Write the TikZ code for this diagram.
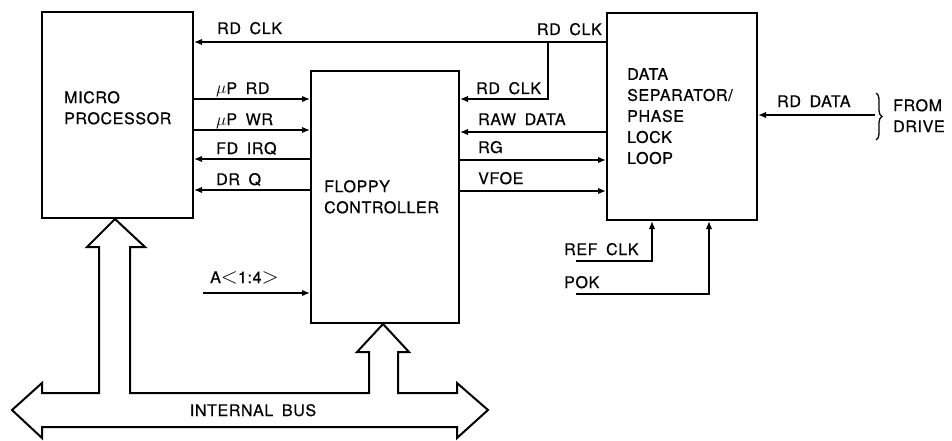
\documentclass[tikz,border=0pt]{standalone}
\usepackage{fontspec}
\setmainfont{TeX Gyre Heros}[LetterSpace=4,WordSpace=1.7,FakeBold=0.6]

\usetikzlibrary{arrows.meta,decorations.pathreplacing,positioning}

\begin{document}
\begin{tikzpicture}[x=1pt,y=-1pt,>={Latex[length=8pt,width=6.5pt]},
  font=\fontsize{16}{21}\selectfont,
  blk/.style={draw,line width=2pt,inner sep=0pt},
  sig/.style={line width=1.5pt},
  lbl/.style={anchor=base west,inner sep=0pt},
  txt/.style={anchor=north west,inner sep=0pt,align=left}]
\useasboundingbox (0,0) rectangle (952,441);
% the three blocks
\node[blk,minimum width=151pt,minimum height=206pt] (mp) at (117.5,115) {};
\node[blk,minimum width=148pt,minimum height=252pt] (fc) at (385,197) {};
\node[blk,minimum width=150pt,minimum height=207pt] (sep) at (682,116.5) {};
\node[txt] (mptxt) at (64,91) {MICRO\\PROCESSOR};
\node[txt] (fctxt) at (324,180) {FLOPPY\\CONTROLLER};
\node[txt] (septxt) at (627,68) {DATA\\SEPARATOR/\\PHASE\\LOCK\\LOOP};
% read clock to cpu and controller
\draw[sig,->] (sep.west |- 0,42) -- (mp.east |- 0,42);
\coordinate (rdk) at (548,42);
\draw[sig,->] (rdk) |- (fc.east |- 0,99);
\node[lbl] (lrdk1) at (217,34) {RD CLK};
\node[lbl,anchor=base east] (lrdk2) at (602,35) {RD CLK};
\node[lbl] (lrdk3) at (476,94) {RD CLK};
% cpu <-> controller
\foreach \y/\t/\d in {99/{$\mu$P RD}/->,130/{$\mu$P WR}/->,159/{FD IRQ}/<-,190/{DR Q}/<-}{
  \draw[sig,\d] (mp.east |- 0,\y) -- (fc.west |- 0,\y);
  \node[lbl] (l\y) at (216,\y-5) {\t};
}
% controller <-> data separator
\foreach \y/\t/\d in {132/{RAW DATA}/<-,160/{RG}/->,191/{VFOE}/->}{
  \draw[sig,\d] (fc.east |- 0,\y) -- (sep.west |- 0,\y);
  \node[lbl] (r\y) at (478,\y-7) {\t};
}
% from drive
\coordinate (drv) at (875,115);
\draw[sig,->] (drv) -- (sep.east |- drv);
\node[lbl] (lrdd) at (777,107) {RD DATA};
\draw[line width=1.3pt,decorate,decoration={brace,amplitude=6pt}] (876,93) -- (876,140);
\node[txt] (lfrom) at (893,99) {FROM\\DRIVE};
% clocks into the separator
\coordinate (refk) at (576,261);
\coordinate (pok) at (576,294);
\draw[sig,->] (refk) -| (sep.south -| 652,0);
\draw[sig,->] (pok) -| (sep.south -| 709,0);
\node[lbl] (lrefk) at (564,255) {REF CLK};
\node[lbl] (lpok) at (564,288) {POK};
% address lines
\coordinate (adr) at (203,293);
\draw[sig,->] (adr) -- (fc.west |- adr);
\node[lbl] (ladr) at (210,283) {A\scalebox{1.3}{$<$}1:4\scalebox{1.3}{$>$}};
% internal bus
\draw[line width=2pt,line join=miter] (12,410) -- (42,383) -- (42,393) -- (99,393) -- (99,247)
  -- (87,247) -- (mp.south -| 115,0) -- (145,247) -- (130,247) -- (130,393) -- (369,393)
  -- (369,352) -- (357,352) -- (fc.south -| 383,0) -- (409,352) -- (398,352) -- (398,393)
  -- (457,393) -- (457,383) -- (488,410) -- (457,438) -- (457,427) -- (42,427) -- (42,438) -- cycle;
\node[anchor=base,inner sep=0pt] (lbus) at (253,416) {INTERNAL BUS};
\end{tikzpicture}
\end{document}
